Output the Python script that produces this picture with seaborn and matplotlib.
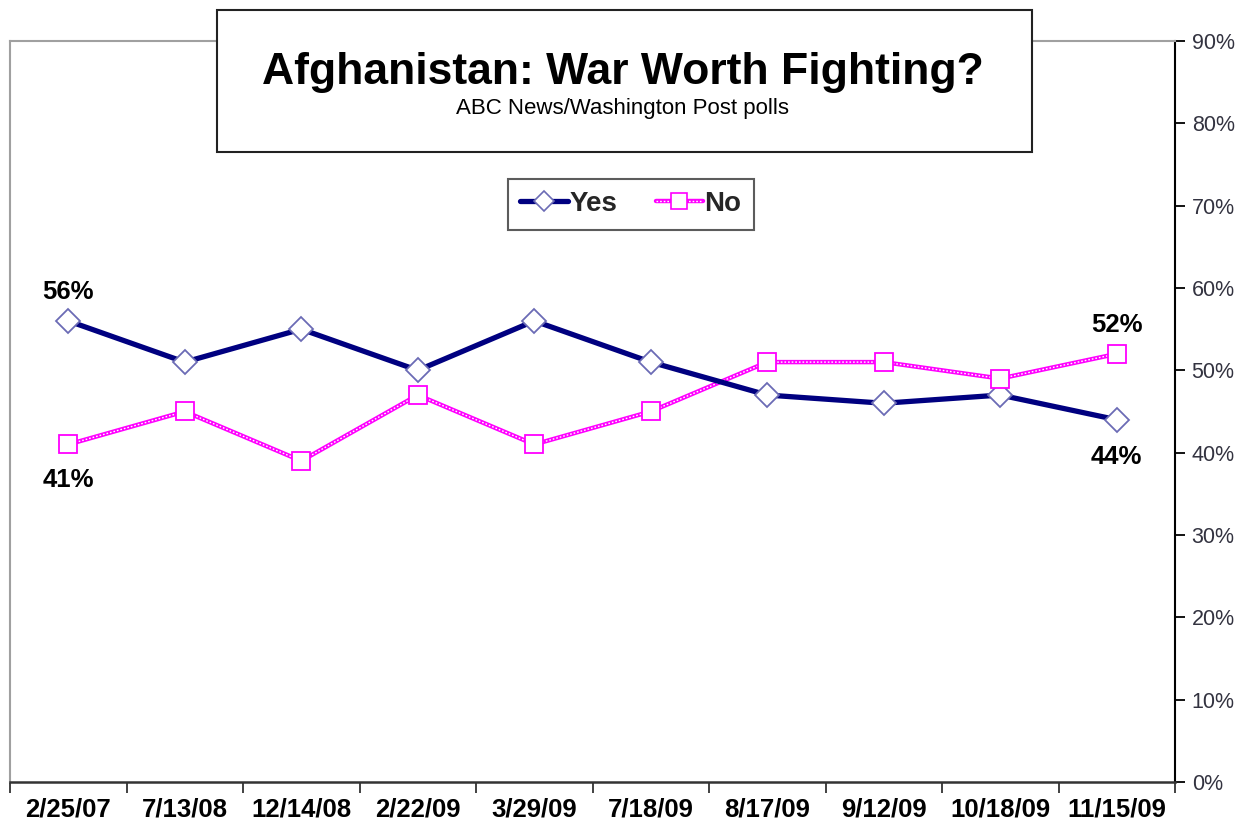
import matplotlib
matplotlib.use("Agg")
import matplotlib.pyplot as plt
import seaborn as sns
import pandas as pd
from matplotlib.patches import Rectangle
from matplotlib.lines import Line2D
from matplotlib.ticker import FixedLocator, FuncFormatter

dates = ["2/25/07", "7/13/08", "12/14/08", "2/22/09", "3/29/09",
         "7/18/09", "8/17/09", "9/12/09", "10/18/09", "11/15/09"]
yes_vals = [56, 51, 55, 50, 56, 51, 47, 46, 47, 44]
no_vals = [41, 45, 39, 47, 41, 45, 51, 51, 49, 52]
y_ticks = [0, 10, 20, 30, 40, 50, 60, 70, 80, 90]

sns.set_style("white")
plt.rcParams['font.family'] = ['Liberation Sans', 'DejaVu Sans']

W, H = 1248, 834
fig = plt.figure(figsize=(W / 100, H / 100), dpi=100)
ax = fig.add_axes([10 / W, (H - 782) / H, (1175 - 10) / W, (782 - 41) / H])

df = pd.DataFrame({"date": dates, "Yes": yes_vals, "No": no_vals})
pos = list(range(len(dates)))
df["pos"] = pos

navy = "#000080"
magenta = "#FF00FF"
dia_edge = "#6B6BB5"

sns.lineplot(data=df, x="pos", y="Yes", ax=ax, color=navy, lw=3.8, sort=False,
             marker="D", markersize=12.5, markerfacecolor="white",
             markeredgecolor=dia_edge, markeredgewidth=1.3, zorder=3)
sns.lineplot(data=df, x="pos", y="No", ax=ax, color=magenta, lw=3.2, sort=False, zorder=2)
ax.plot(df["pos"], df["No"], color="white", lw=1.0, ls=(0, (1.2, 1.4)), zorder=2.5)
ax.plot(df["pos"], df["No"], lw=0, marker="s", markersize=12.5, markerfacecolor="white",
        markeredgecolor=magenta, markeredgewidth=1.3, zorder=3)

ax.set_xlim(-0.5, len(dates) - 0.5)
ax.set_ylim(0, 90)
ax.set_xlabel("")
ax.set_ylabel("")

# x axis: ticks at boundaries, labels at centers
ax.xaxis.set_major_locator(FixedLocator(pos))
ax.set_xticklabels(dates, fontsize=18.5, fontweight="bold", color="black")
ax.xaxis.set_minor_locator(FixedLocator([p - 0.5 for p in pos] + [len(dates) - 0.5]))
ax.tick_params(axis="x", which="major", length=0, pad=11)
ax.tick_params(axis="x", which="minor", length=8, width=1.3, color="#333333", direction="out", bottom=True)

# y axis on right
ax.yaxis.tick_right()
ax.yaxis.set_major_locator(FixedLocator(y_ticks))
ax.yaxis.set_major_formatter(FuncFormatter(lambda v, p: f"{int(v)}%"))
ax.tick_params(axis="y", which="major", length=7, width=1.3, color="black", direction="out",
               labelsize=15.5, labelcolor="#333340", pad=5, right=True, left=False)

for side in ["left", "top"]:
    ax.spines[side].set_color("#A0A0A0")
    ax.spines[side].set_linewidth(1.5)
ax.spines["right"].set_color("black")
ax.spines["right"].set_linewidth(1.5)
ax.spines["bottom"].set_color("#333333")
ax.spines["bottom"].set_linewidth(1.8)

# data labels
lab_kw = dict(fontsize=18.5, fontweight="bold", ha="center", color="black")
ax.annotate(f"{yes_vals[0]}%", (0, yes_vals[0]), xytext=(0, 12), textcoords="offset points", va="bottom", **lab_kw)
ax.annotate(f"{no_vals[0]}%", (0, no_vals[0]), xytext=(0, -17), textcoords="offset points", va="top", **lab_kw)
ax.annotate(f"{no_vals[-1]}%", (len(dates) - 1, no_vals[-1]), xytext=(0, 12), textcoords="offset points", va="bottom", **lab_kw)
ax.annotate(f"{yes_vals[-1]}%", (len(dates) - 1, yes_vals[-1]), xytext=(0, -18), textcoords="offset points", va="top", **lab_kw)

# legend
h_yes = Line2D([], [], color=navy, lw=3.8, marker="D", markersize=10, markerfacecolor="white",
               markeredgecolor=dia_edge, markeredgewidth=1.2)
h_no = (Line2D([], [], color=magenta, lw=3.2),
        Line2D([], [], color="white", lw=1.0, ls=(0, (1.2, 1.4))),
        Line2D([], [], lw=0, marker="s", markersize=11, markerfacecolor="white",
               markeredgecolor=magenta, markeredgewidth=1.2))
leg = ax.legend([h_yes, h_no], ["Yes", "No"], loc="center", bbox_to_anchor=(0.533, 0.78),
                ncol=2, frameon=True, fancybox=False, handlelength=1.7, handletextpad=0.05,
                columnspacing=1.4, borderpad=0.45, prop={"size": 20, "weight": "bold"})
leg.get_frame().set_edgecolor("#333333")
leg.get_frame().set_linewidth(1.5)

# title box
fig.patches.append(Rectangle((217 / W, (H - 152) / H), 815 / W, 142 / H, transform=fig.transFigure,
                             facecolor="white", edgecolor="#222222", lw=1.5, zorder=5))
fig.text(623 / W, (H - 84) / H, "Afghanistan: War Worth Fighting?", ha="center", va="baseline",
         fontsize=32, fontweight="bold", color="black", zorder=6)
fig.text(623 / W, (H - 114) / H, "ABC News/Washington Post polls", ha="center", va="baseline",
         fontsize=16, color="black", zorder=6)

fig.savefig("out.png", dpi=100, facecolor="white")
